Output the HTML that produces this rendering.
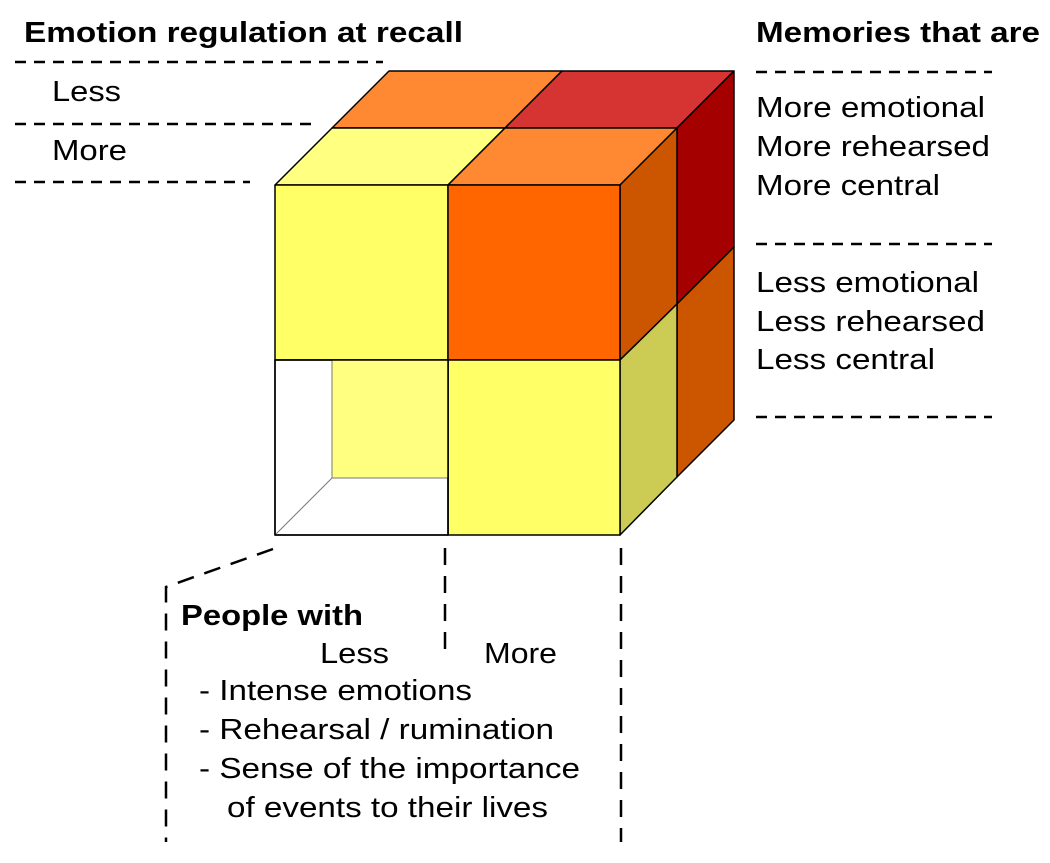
<!DOCTYPE html>
<html><head><meta charset="utf-8"><style>
body{margin:0;background:#fff;width:1050px;height:858px;overflow:hidden}
svg text{font-family:"Liberation Sans",Arial,sans-serif;font-size:29px;fill:#000}
.b{font-weight:bold}
</style></head><body>
<svg width="1050" height="858" viewBox="0 0 1050 858">
<g stroke="#000" stroke-width="2.5" stroke-dasharray="11,8" fill="none">
<line x1="15" y1="62" x2="383" y2="62"/>
<line x1="15" y1="124" x2="312" y2="124"/>
<line x1="15" y1="182" x2="250" y2="182"/>
<line x1="756" y1="72" x2="992" y2="72"/>
<line x1="756" y1="244" x2="992" y2="244"/>
<line x1="756" y1="417" x2="992" y2="417"/>
</g>
<g stroke="#000" stroke-width="2.5" stroke-dasharray="17,11" fill="none">
<polyline points="273,549 166,587 166,842"/>
<line x1="445" y1="548" x2="445" y2="655"/>
<line x1="621" y1="548" x2="621" y2="842"/>
</g>
<g stroke="#000" stroke-width="1.5" stroke-linejoin="round">
<polygon points="389,71 562,71 505,128 332,128" fill="#FF8833"/>
<polygon points="562,71 734,71 677,128 505,128" fill="#D63333"/>
<polygon points="332,128 505,128 448,185 275,185" fill="#FFFF80"/>
<polygon points="505,128 677,128 620,185 448,185" fill="#FF8833"/>
<polygon points="677,128 734,71 734,247 677,304" fill="#A50000"/>
<polygon points="677,304 734,247 734,420 677,477" fill="#CC5500"/>
<polygon points="620,185 677,128 677,304 620,360" fill="#CC5500"/>
<polygon points="620,360 677,304 677,477 620,535" fill="#CCCC55"/>
<rect x="275" y="185" width="173" height="175" fill="#FFFF66"/>
<rect x="448" y="185" width="172" height="175" fill="#FF6600"/>
<rect x="448" y="360" width="172" height="175" fill="#FFFF66"/>
<rect x="275" y="360" width="173" height="175" fill="#fff"/>
<rect x="332" y="360" width="116" height="118" fill="#FFFF80" stroke="#777" stroke-width="1"/>
<line x1="275" y1="535" x2="332" y2="478" stroke="#777" stroke-width="1"/>
<rect x="275" y="360" width="173" height="175" fill="none"/>
</g>
<g lengthAdjust="spacingAndGlyphs">
<text x="24" y="42" class="b" textLength="439" lengthAdjust="spacingAndGlyphs">Emotion regulation at recall</text>
<text x="52" y="101" textLength="69" lengthAdjust="spacingAndGlyphs">Less</text>
<text x="52" y="160" textLength="75" lengthAdjust="spacingAndGlyphs">More</text>
<text x="756" y="42" class="b" textLength="284" lengthAdjust="spacingAndGlyphs">Memories that are</text>
<text x="756" y="117" textLength="229" lengthAdjust="spacingAndGlyphs">More emotional</text>
<text x="756" y="156" textLength="234" lengthAdjust="spacingAndGlyphs">More rehearsed</text>
<text x="756" y="195" textLength="184" lengthAdjust="spacingAndGlyphs">More central</text>
<text x="756" y="292" textLength="223" lengthAdjust="spacingAndGlyphs">Less emotional</text>
<text x="756" y="331" textLength="229" lengthAdjust="spacingAndGlyphs">Less rehearsed</text>
<text x="756" y="369" textLength="179" lengthAdjust="spacingAndGlyphs">Less central</text>
<text x="181" y="625" class="b" textLength="182" lengthAdjust="spacingAndGlyphs">People with</text>
<text x="320" y="663" textLength="69" lengthAdjust="spacingAndGlyphs">Less</text>
<text x="484" y="663" textLength="73" lengthAdjust="spacingAndGlyphs">More</text>
<text x="199" y="700" textLength="273" lengthAdjust="spacingAndGlyphs">- Intense emotions</text>
<text x="199" y="739" textLength="355" lengthAdjust="spacingAndGlyphs">- Rehearsal / rumination</text>
<text x="199" y="778" textLength="381" lengthAdjust="spacingAndGlyphs">- Sense of the importance</text>
<text x="227" y="817" textLength="321" lengthAdjust="spacingAndGlyphs">of events to their lives</text>
</g>
</svg>
</body></html>
